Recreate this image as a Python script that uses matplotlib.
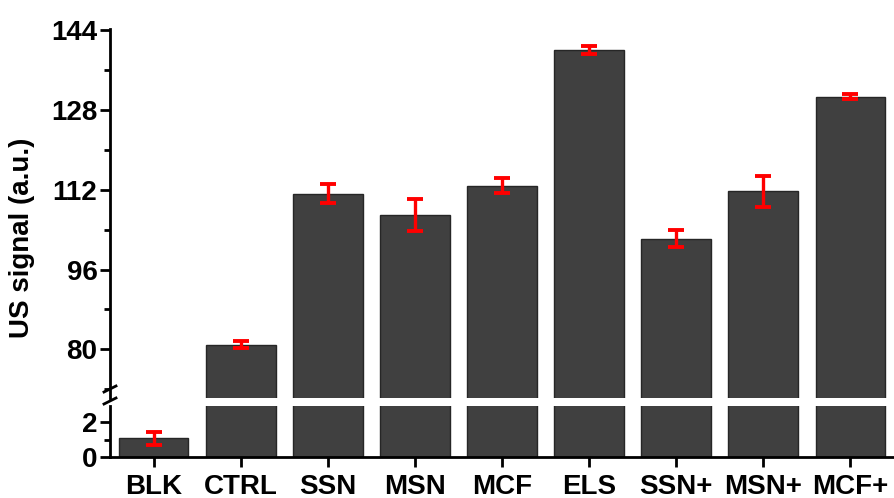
"""US signal bar chart with a broken y axis (low range 0-3, high range 70-144)."""

import matplotlib
matplotlib.use("Agg")
import matplotlib.pyplot as plt
import numpy as np

labels = ["BLK", "CTRL", "SSN", "MSN", "MCF", "ELS", "SSN+", "MSN+", "MCF+"]
signal = [1.08, 80.9, 111.2, 107.0, 112.8, 140.1, 102.2, 111.7, 130.7]
error = [0.36, 0.7, 1.9, 3.2, 1.5, 0.8, 1.65, 3.05, 0.55]

upper_ticks = [80, 96, 112, 128, 144]
lower_ticks = [0, 2]

BAR = "#404040"
EDGE = "#262626"
FONT = "Liberation Sans"

plt.rcParams["font.family"] = [FONT, "DejaVu Sans"]
plt.rcParams["font.weight"] = "bold"

fig = plt.figure(figsize=(8.94, 4.98), dpi=100)
W, H = 894, 498
left, right = 110 / W, 1.0
ax_hi = fig.add_axes([left, 1 - 398 / H, right - left, (398 - 29) / H])
ax_lo = fig.add_axes([left, 1 - 457 / H, right - left, (457 - 406) / H])

x = np.arange(len(labels))
for ax in (ax_hi, ax_lo):
    ax.bar(x, signal, width=0.8, color=BAR, edgecolor=EDGE, linewidth=1.0, zorder=2)
    ax.errorbar(x, signal, yerr=error, fmt="none", ecolor="#ff0000",
                elinewidth=2.4, capsize=5.5, capthick=2.8, zorder=3)
    ax.set_xlim(-0.5, 8.5)
    for s in ("top", "right"):
        ax.spines[s].set_visible(False)
    ax.spines["left"].set_linewidth(2)
    ax.spines["bottom"].set_linewidth(2)
    ax.tick_params(axis="both", width=2, length=7, labelsize=20, pad=2)
    ax.tick_params(axis="y", which="minor", width=2, length=4)

ax_hi.set_ylim(70.2, 144.3)
ax_hi.set_yticks(upper_ticks)
ax_hi.set_yticks([72, 88, 104, 120, 136], minor=True)
ax_hi.spines["bottom"].set_visible(False)
ax_hi.set_xticks([])

ax_lo.set_ylim(0, 2.95)
ax_lo.set_yticks(lower_ticks)
ax_lo.set_yticks([1], minor=True)
ax_lo.set_xticks(x)
ax_lo.set_xticklabels(labels)
ax_lo.tick_params(axis="x", labelsize=20, pad=5)

# break marks on the left spine
fig.add_artist(plt.Line2D([104 / W, 116 / W], [1 - 392 / H, 1 - 386 / H],
                          color="black", lw=2))
fig.add_artist(plt.Line2D([104 / W, 116 / W], [1 - 404 / H, 1 - 398 / H],
                          color="black", lw=2))

fig.text(22 / W, 1 - 238 / H, "US signal (a.u.)", rotation=90, fontsize=20,
         fontweight="bold", ha="center", va="center")

fig.savefig("out.png", dpi=100)
